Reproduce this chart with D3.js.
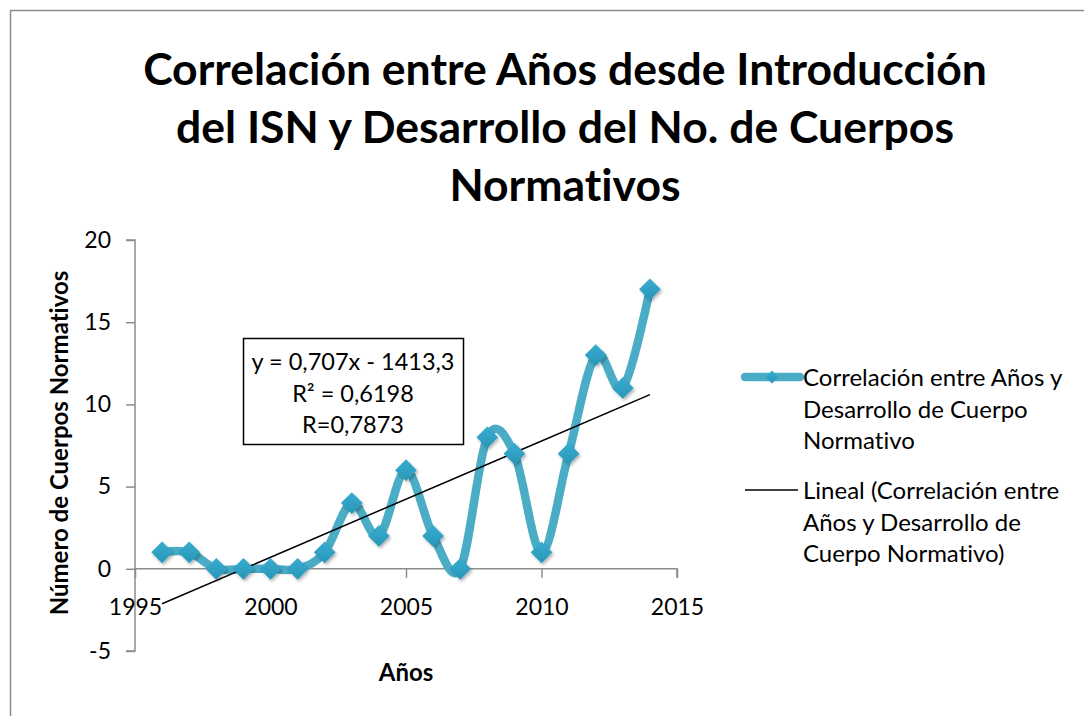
<!DOCTYPE html>
<meta charset="utf-8">
<title>Correlación ISN</title>
<script src="https://cdn.jsdelivr.net/npm/d3@7"></script>
<style>
  body { margin: 0; background: #fff; }
  text { font-family: Lato, "Open Sans", sans-serif; fill: #000; font-variant-ligatures: none; font-feature-settings: "liga" 0; }
</style>
<body>
<div id="chart"></div>
<script>
// data
var years = [1996, 1997, 1998, 1999, 2000, 2001, 2002, 2003, 2004, 2005,
             2006, 2007, 2008, 2009, 2010, 2011, 2012, 2013, 2014];
var cuerpos = [1, 1, 0, 0, 0, 0, 1, 4, 2, 6, 2, 0, 8, 7, 1, 7, 13, 11, 17];
var trend = { slope: 0.707, intercept: -1413.3 };
var xTicks = [1995, 2000, 2005, 2010, 2015];
var yTicks = [-5, 0, 5, 10, 15, 20];
var titleLines = ["Correlación entre Años desde Introducción",
                  "del ISN y Desarrollo del No. de Cuerpos",
                  "Normativos"];
var eqLines = ["y = 0,707x - 1413,3", "R² = 0,6198", "R=0,7873"];
var legend1 = ["Correlación entre Años y", "Desarrollo de Cuerpo", "Normativo"];
var legend2 = ["Lineal (Correlación entre", "Años y Desarrollo de", "Cuerpo Normativo)"];

var W = 1084, H = 716;
var svg = d3.select("#chart").append("svg")
    .attr("width", W).attr("height", H);

var defs = svg.append("defs");
var f = defs.append("filter").attr("id", "shadow")
    .attr("x", "-50%").attr("y", "-50%").attr("width", "200%").attr("height", "200%");
f.append("feDropShadow").attr("dx", 1.5).attr("dy", 2).attr("stdDeviation", 1.5)
    .attr("flood-color", "#000").attr("flood-opacity", 0.3);
var grad = defs.append("linearGradient").attr("id", "mk")
    .attr("x1", 0).attr("y1", 0).attr("x2", 0).attr("y2", 1);
grad.append("stop").attr("offset", "0%").attr("stop-color", "#38acd0");
grad.append("stop").attr("offset", "100%").attr("stop-color", "#2896b8");

// outer frame (top + left visible)
svg.append("path")
    .attr("d", "M10.5," + H + "V10.5H" + W)
    .attr("fill", "none").attr("stroke", "#8c8c8c").attr("stroke-width", 1.5);

// title
svg.append("g").selectAll("text").data(titleLines).join("text")
    .attr("x", 565).attr("y", function (d, i) { return 85 + i * 58; })
    .attr("text-anchor", "middle")
    .style("font-size", "44.5px").style("font-weight", "bold")
    .text(function (d) { return d; });

var x = d3.scaleLinear().domain([1995, 2015]).range([135, 677]);
var y = d3.scaleLinear().domain([-5, 20]).range([651, 240]);

// y axis
var yAxis = svg.append("g")
    .attr("transform", "translate(" + x(1995) + ",0)")
    .call(d3.axisLeft(y).tickValues(yTicks).tickFormat(function (d) { return String(d); })
        .tickSize(9).tickPadding(15));
yAxis.selectAll("path, line").attr("stroke", "#8c8c8c").attr("stroke-width", 1.5);
yAxis.select(".domain").attr("d", "M-9," + y(-5) + "H0V" + y(20) + "H-9");
yAxis.selectAll("text").style("font-size", "23px").style("font-family", "Lato, sans-serif");

// x axis at y=0
var xAxis = svg.append("g")
    .attr("transform", "translate(0," + y(0) + ")")
    .call(d3.axisBottom(x).tickValues(xTicks).tickFormat(d3.format("d")).tickSize(9).tickPadding(21));
xAxis.selectAll("path, line").attr("stroke", "#8c8c8c").attr("stroke-width", 1.5);
xAxis.select(".domain").attr("d", "M" + x(1995) + ",0H" + x(2015) + "V9");
xAxis.selectAll("text").style("font-size", "23px").style("font-family", "Lato, sans-serif");

// axis titles
svg.append("text")
    .attr("transform", "translate(68," + 443 + ") rotate(-90)")
    .attr("text-anchor", "middle")
    .style("font-size", "24px").style("font-weight", "bold")
    .text("Número de Cuerpos Normativos");
svg.append("text")
    .attr("x", 406).attr("y", 681)
    .attr("text-anchor", "middle")
    .style("font-size", "24px").style("font-weight", "bold")
    .text("Años");

// series line (smoothed)
var pts = years.map(function (d, i) { return [d, cuerpos[i]]; });
var line = d3.line()
    .x(function (d) { return x(d[0]); })
    .y(function (d) { return y(d[1]); })
    .curve(d3.curveCatmullRom.alpha(0));
svg.append("path")
    .datum(pts)
    .attr("d", line)
    .attr("fill", "none")
    .attr("stroke", "#4bacc6")
    .attr("stroke-width", 8.5)
    .attr("stroke-linejoin", "round")
    .attr("stroke-linecap", "round");

// trend line
var tx = d3.extent(years);
svg.append("line")
    .attr("x1", x(tx[0])).attr("y1", y(trend.slope * tx[0] + trend.intercept))
    .attr("x2", x(tx[1])).attr("y2", y(trend.slope * tx[1] + trend.intercept))
    .attr("stroke", "#000").attr("stroke-width", 1.5);

// diamond markers
var diamond = d3.symbol().type(d3.symbolDiamond2).size(300);
svg.append("g").selectAll("path").data(pts).join("path")
    .attr("transform", function (d) { return "translate(" + x(d[0]) + "," + y(d[1]) + ")"; })
    .attr("d", diamond)
    .attr("fill", "url(#mk)")
    .attr("filter", "url(#shadow)");

// equation box
svg.append("rect")
    .attr("x", 243.5).attr("y", 338.5).attr("width", 220).attr("height", 106)
    .attr("fill", "#fff").attr("stroke", "#000").attr("stroke-width", 1.5);
svg.append("g").selectAll("text").data(eqLines).join("text")
    .attr("x", 353).attr("y", function (d, i) { return 370 + i * 31.5; })
    .attr("text-anchor", "middle")
    .style("font-size", "23.5px")
    .text(function (d) { return d; });

// legend
var lg = svg.append("g");
lg.append("line").attr("x1", 745).attr("x2", 800).attr("y1", 377).attr("y2", 377)
    .attr("stroke", "#4bacc6").attr("stroke-width", 8.5).attr("stroke-linecap", "round");
lg.append("path").attr("transform", "translate(772,377)")
    .attr("d", d3.symbol().type(d3.symbolDiamond2).size(110))
    .attr("fill", "url(#mk)");
lg.append("line").attr("x1", 745).attr("x2", 798).attr("y1", 490).attr("y2", 490)
    .attr("stroke", "#000").attr("stroke-width", 1.5);
lg.selectAll(".l1").data(legend1).join("text").attr("class", "l1")
    .attr("x", 803).attr("y", function (d, i) { return 386 + i * 31.5; })
    .style("font-size", "24px").text(function (d) { return d; });
lg.selectAll(".l2").data(legend2).join("text").attr("class", "l2")
    .attr("x", 803).attr("y", function (d, i) { return 499 + i * 31.5; })
    .style("font-size", "24px").text(function (d) { return d; });
</script>
</body>
